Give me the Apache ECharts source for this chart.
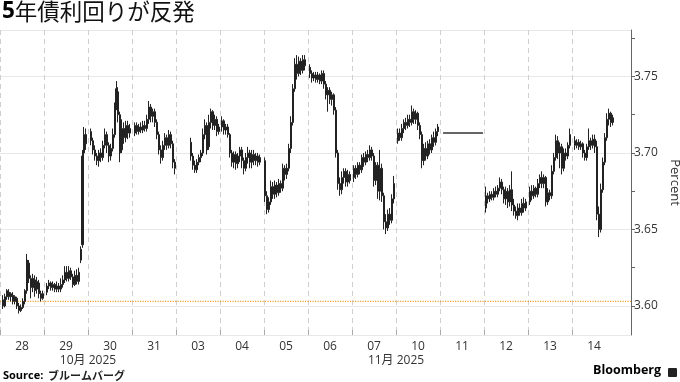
<!DOCTYPE html>
<html><head><meta charset="utf-8">
<script src="https://cdn.jsdelivr.net/npm/echarts@6/dist/echarts.min.js"></script>
<style>html,body{margin:0;padding:0;background:#fff}#c{width:680px;height:382px}</style>
</head><body><div id="c"></div>
<script>
// Trading days shown on the axis
const days = ['28','29','30','31','03','04','05','06','07','10','11','12','13','14'];
// Month labels: [text, boundary index (day index where label is centred)]
const months = [['10月 2025', 2], ['11月 2025', 9]];
const yTicks = [3.60, 3.65, 3.70, 3.75];
const yMin = 3.581, yMax = 3.7804;
const minorMin = 3.600, minorMax = 3.775, minorStep = 0.025;
const refLevel = 3.603;          // dotted orange reference line
const holidayLevel = 3.713;      // flat line on 11 (market closed)
const holidaySlots = [3, 43];
// Each day split into 44 time slots. Bars: [slot, open, close, low, high]
const d28 = [[3,3.604,3.600,3.598,3.607],[5,3.600,3.606,3.599,3.608],[7,3.606,3.610,3.604,3.611],[9,3.609,3.606,3.604,3.611],[11,3.606,3.608,3.603,3.609],[13,3.607,3.603,3.601,3.609],[15,3.603,3.606,3.601,3.607],[17,3.605,3.600,3.598,3.606],[19,3.600,3.597,3.595,3.602],[21,3.597,3.599,3.596,3.601],[23,3.599,3.603,3.598,3.605],[25,3.603,3.610,3.601,3.611],[27,3.610,3.630,3.608,3.634],[29,3.628,3.618,3.615,3.630],[31,3.618,3.612,3.605,3.620],[33,3.612,3.618,3.609,3.621],[35,3.617,3.610,3.606,3.620],[37,3.611,3.616,3.608,3.619],[39,3.615,3.608,3.605,3.617],[41,3.608,3.605,3.603,3.610],[43,3.605,3.608,3.604,3.610]];
const d29 = [[3,3.609,3.613,3.607,3.615],[5,3.613,3.615,3.611,3.617],[7,3.615,3.612,3.610,3.616],[9,3.612,3.614,3.610,3.616],[11,3.614,3.611,3.609,3.615],[13,3.611,3.613,3.609,3.616],[15,3.613,3.611,3.609,3.615],[17,3.611,3.614,3.609,3.618],[19,3.614,3.617,3.612,3.620],[21,3.617,3.622,3.615,3.626],[23,3.622,3.618,3.616,3.626],[25,3.618,3.623,3.616,3.626],[27,3.623,3.619,3.617,3.625],[29,3.619,3.614,3.612,3.621],[31,3.614,3.620,3.613,3.623],[33,3.620,3.616,3.614,3.624],[35,3.616,3.622,3.614,3.625],[37,3.630,3.637,3.628,3.639],[38.5,3.640,3.698,3.638,3.702],[40,3.700,3.712,3.696,3.717],[42,3.712,3.706,3.702,3.716]];
const d30 = [[3,3.714,3.708,3.705,3.716],[5,3.708,3.702,3.699,3.710],[7,3.702,3.698,3.695,3.705],[9,3.698,3.695,3.692,3.700],[11,3.695,3.700,3.691,3.702],[13,3.700,3.697,3.694,3.703],[15,3.697,3.705,3.695,3.708],[17,3.705,3.712,3.703,3.716],[19,3.712,3.705,3.700,3.714],[21,3.705,3.698,3.694,3.707],[23,3.698,3.703,3.695,3.706],[25,3.703,3.712,3.701,3.716],[27,3.712,3.730,3.710,3.733],[28.5,3.730,3.742,3.728,3.747],[30,3.740,3.725,3.720,3.743],[32,3.725,3.700,3.694,3.727],[34,3.702,3.716,3.700,3.722],[36,3.716,3.710,3.706,3.720],[38,3.710,3.718,3.707,3.721],[40,3.718,3.713,3.709,3.721],[42,3.713,3.716,3.710,3.719]];
const d31 = [[3,3.713,3.718,3.711,3.720],[5,3.718,3.714,3.712,3.720],[7,3.714,3.717,3.712,3.719],[9,3.717,3.715,3.713,3.720],[11,3.715,3.718,3.713,3.721],[13,3.718,3.716,3.714,3.721],[15,3.716,3.722,3.714,3.725],[17,3.722,3.730,3.719,3.734],[19,3.730,3.724,3.720,3.732],[21,3.724,3.727,3.720,3.729],[23,3.727,3.720,3.717,3.729],[25,3.720,3.712,3.709,3.722],[27,3.712,3.702,3.699,3.714],[29,3.702,3.697,3.693,3.705],[31,3.697,3.705,3.695,3.708],[33,3.705,3.710,3.702,3.713],[35,3.710,3.705,3.702,3.712],[37,3.705,3.712,3.703,3.715],[39,3.712,3.706,3.703,3.714],[41,3.706,3.694,3.690,3.708],[43,3.694,3.690,3.686,3.696]];
const d03 = [[15,3.707,3.698,3.695,3.710],[17,3.698,3.692,3.689,3.700],[19,3.692,3.689,3.687,3.695],[21,3.689,3.694,3.687,3.696],[23,3.694,3.697,3.692,3.699],[25,3.697,3.700,3.694,3.702],[27,3.700,3.712,3.698,3.716],[29,3.712,3.718,3.709,3.722],[31,3.718,3.702,3.699,3.720],[33,3.704,3.720,3.702,3.725],[35,3.720,3.727,3.716,3.729],[37,3.727,3.718,3.715,3.728],[39,3.718,3.722,3.715,3.725],[41,3.722,3.714,3.711,3.724],[43,3.714,3.717,3.712,3.719]];
const d04 = [[2,3.717,3.721,3.714,3.724],[4,3.721,3.715,3.712,3.722],[6,3.715,3.717,3.712,3.719],[8,3.717,3.712,3.710,3.719],[10,3.712,3.700,3.697,3.713],[12,3.700,3.694,3.691,3.702],[14,3.694,3.699,3.690,3.701],[16,3.699,3.693,3.689,3.701],[18,3.693,3.698,3.690,3.700],[20,3.698,3.702,3.694,3.704],[22,3.702,3.695,3.690,3.704],[24,3.695,3.690,3.686,3.697],[26,3.690,3.697,3.688,3.700],[28,3.697,3.700,3.693,3.704],[30,3.700,3.694,3.690,3.702],[32,3.694,3.699,3.690,3.702],[34,3.699,3.695,3.692,3.702],[36,3.695,3.698,3.692,3.700],[38,3.698,3.694,3.691,3.700],[40,3.694,3.697,3.692,3.699]];
const d05 = [[1,3.695,3.672,3.668,3.697],[3,3.672,3.663,3.660,3.675],[5,3.663,3.668,3.661,3.671],[7,3.668,3.678,3.666,3.682],[9,3.678,3.673,3.670,3.681],[11,3.673,3.679,3.670,3.682],[13,3.679,3.674,3.671,3.681],[15,3.674,3.680,3.672,3.683],[17,3.680,3.677,3.674,3.682],[19,3.677,3.690,3.675,3.693],[21,3.690,3.686,3.682,3.692],[23,3.686,3.690,3.683,3.693],[25,3.690,3.703,3.688,3.706],[27,3.703,3.720,3.700,3.724],[29,3.720,3.742,3.718,3.745],[31,3.742,3.758,3.740,3.762],[33,3.758,3.752,3.748,3.764],[35,3.752,3.760,3.750,3.763],[37,3.760,3.754,3.751,3.762],[39,3.754,3.761,3.752,3.764],[41,3.761,3.757,3.754,3.764]];
const d06 = [[2,3.756,3.752,3.749,3.758],[4,3.752,3.749,3.746,3.754],[6,3.749,3.751,3.747,3.753],[8,3.751,3.748,3.746,3.753],[10,3.748,3.751,3.746,3.753],[12,3.751,3.747,3.745,3.752],[14,3.747,3.752,3.745,3.754],[16,3.752,3.745,3.742,3.754],[18,3.745,3.738,3.735,3.747],[20,3.738,3.741,3.727,3.743],[22,3.741,3.735,3.732,3.743],[24,3.735,3.738,3.731,3.740],[26,3.738,3.728,3.725,3.739],[28,3.728,3.700,3.697,3.730],[30,3.700,3.680,3.676,3.702],[32,3.680,3.676,3.672,3.684],[34,3.676,3.684,3.673,3.688],[36,3.684,3.688,3.680,3.690],[38,3.688,3.681,3.678,3.690],[40,3.681,3.686,3.678,3.689],[42,3.686,3.682,3.680,3.688]];
const d07 = [[2,3.684,3.690,3.681,3.692],[4,3.690,3.686,3.683,3.692],[6,3.686,3.692,3.684,3.694],[8,3.692,3.689,3.686,3.694],[10,3.689,3.697,3.687,3.699],[12,3.697,3.694,3.691,3.700],[14,3.694,3.699,3.692,3.701],[16,3.699,3.697,3.694,3.702],[18,3.697,3.702,3.695,3.705],[20,3.702,3.698,3.695,3.704],[22,3.698,3.682,3.678,3.700],[24,3.682,3.692,3.679,3.694],[26,3.692,3.675,3.670,3.694],[28,3.675,3.690,3.669,3.702],[30,3.690,3.672,3.668,3.693],[32,3.672,3.655,3.650,3.674],[34,3.655,3.651,3.647,3.660],[36,3.651,3.660,3.649,3.663],[38,3.660,3.656,3.653,3.664],[40,3.656,3.670,3.654,3.673],[42,3.670,3.680,3.667,3.685]];
const d10 = [[2,3.708,3.713,3.706,3.716],[4,3.713,3.710,3.708,3.716],[6,3.710,3.716,3.708,3.719],[8,3.716,3.720,3.713,3.722],[10,3.720,3.718,3.715,3.723],[12,3.718,3.722,3.716,3.725],[14,3.722,3.720,3.717,3.725],[16,3.720,3.727,3.718,3.731],[18,3.727,3.722,3.719,3.729],[20,3.722,3.726,3.719,3.728],[22,3.726,3.718,3.715,3.727],[24,3.718,3.712,3.709,3.720],[26,3.712,3.695,3.690,3.714],[28,3.695,3.703,3.692,3.706],[30,3.703,3.698,3.695,3.707],[32,3.698,3.706,3.696,3.708],[34,3.706,3.702,3.699,3.709],[36,3.702,3.710,3.700,3.712],[38,3.710,3.707,3.704,3.714],[40,3.707,3.714,3.705,3.716],[42,3.714,3.717,3.711,3.719]];
const d11 = [];
const d12 = [[2,3.664,3.672,3.661,3.678],[4,3.672,3.670,3.667,3.674],[6,3.670,3.673,3.668,3.675],[8,3.673,3.671,3.669,3.675],[10,3.671,3.675,3.669,3.677],[12,3.675,3.673,3.671,3.678],[14,3.673,3.677,3.671,3.679],[16,3.677,3.681,3.675,3.684],[18,3.681,3.676,3.673,3.683],[20,3.676,3.670,3.667,3.678],[22,3.670,3.675,3.666,3.678],[24,3.675,3.668,3.664,3.677],[26,3.668,3.676,3.665,3.679],[28,3.676,3.666,3.662,3.688],[30,3.666,3.662,3.659,3.670],[32,3.662,3.659,3.657,3.665],[34,3.659,3.664,3.656,3.667],[36,3.664,3.661,3.659,3.667],[38,3.661,3.667,3.659,3.670],[40,3.667,3.664,3.661,3.671],[42,3.664,3.668,3.662,3.670]];
const d13 = [[2,3.668,3.675,3.666,3.678],[4,3.675,3.672,3.669,3.679],[6,3.672,3.677,3.670,3.679],[8,3.677,3.673,3.671,3.678],[10,3.673,3.680,3.671,3.683],[12,3.680,3.684,3.677,3.686],[14,3.684,3.680,3.677,3.688],[16,3.680,3.684,3.677,3.686],[18,3.684,3.668,3.665,3.685],[20,3.668,3.674,3.666,3.677],[22,3.674,3.672,3.669,3.676],[24,3.672,3.688,3.670,3.692],[26,3.688,3.697,3.686,3.700],[28,3.697,3.708,3.695,3.712],[30,3.708,3.700,3.696,3.711],[32,3.700,3.704,3.690,3.707],[34,3.704,3.690,3.686,3.706],[36,3.690,3.700,3.688,3.703],[38,3.700,3.698,3.695,3.703],[40,3.698,3.705,3.696,3.707],[42,3.705,3.712,3.703,3.716]];
const d14 = [[3,3.708,3.705,3.702,3.711],[5,3.705,3.707,3.703,3.709],[7,3.707,3.704,3.702,3.709],[9,3.704,3.706,3.702,3.708],[11,3.706,3.700,3.697,3.707],[13,3.700,3.697,3.695,3.702],[15,3.697,3.704,3.695,3.706],[17,3.704,3.708,3.702,3.716],[19,3.708,3.705,3.702,3.710],[21,3.705,3.709,3.703,3.712],[23,3.709,3.704,3.700,3.712],[25,3.704,3.660,3.656,3.708],[27,3.660,3.650,3.645,3.665],[29,3.650,3.676,3.648,3.680],[31,3.676,3.694,3.674,3.697],[33,3.694,3.710,3.692,3.713],[35,3.710,3.722,3.708,3.726],[37,3.722,3.726,3.718,3.729],[39,3.726,3.720,3.717,3.727],[40.5,3.720,3.723,3.718,3.725]];
const dayBars = [d28,d29,d30,d31,d03,d04,d05,d06,d07,d10,d11,d12,d13,d14];
const SLOTS = 44;
const X_MAX = 14.34;

const candles = [];
dayBars.forEach((bars, i) => bars.forEach(b => candles.push([i + b[0]/SLOTS, b[1], b[2], b[3], b[4]])));
const holidayLine = holidaySlots.map(s => [10 + s/SLOTS, holidayLevel]);
const refLine = [[0, refLevel], [X_MAX, refLevel]];

// layout of the plot (pixels)
const PT = 30, PB = 335, H = 382;
const pxPerUnit = (PB - PT) / (yMax - yMin);
const minorTop = PT + (yMax - minorMax) * pxPerUnit;
const minorBottom = H - (PT + (yMax - minorMin) * pxPerUnit);

const chart = echarts.init(document.getElementById('c'), null, {renderer: 'canvas'});
const txt = '#333';
const hidden = {show: false};
const hiddenAxis = {show: false, axisLine: {show: false, onZero: false}, axisTick: hidden, minorTick: hidden, axisLabel: hidden, splitLine: hidden, minorSplitLine: hidden};
const gridBase = {left: 0, containLabel: false, outerBoundsMode: 'none'};
chart.setOption({
  animation: false,
  backgroundColor: '#fff',
  textStyle: {fontFamily: 'Open Sans, "Noto Sans CJK JP", sans-serif'},
  title: [{
    left: 2, top: 0, padding: 0,
    text: '{b|5}{n|年債利回りが反発}',
    textStyle: {rich: {
      b: {fontSize: 22.5, fontWeight: 'bold', color: '#000', fontFamily: 'Open Sans, sans-serif'},
      n: {fontSize: 22.5, fontWeight: 'normal', color: '#111', fontFamily: '"Noto Sans CJK JP", sans-serif'}
    }}
  }, {
    left: 3, top: 367, padding: 0,
    text: '{b|Source:} {n|ブルームバーグ}',
    textStyle: {rich: {
      b: {fontSize: 11, fontWeight: 'bold', color: '#000', fontFamily: 'Open Sans, sans-serif'},
      n: {fontSize: 11, color: '#222', fontFamily: '"Noto Sans CJK JP", sans-serif'}
    }}
  }, {
    left: 593, top: 364, padding: 0,
    text: 'Bloomberg',
    textStyle: {fontSize: 12.5, fontWeight: 'bold', color: '#000', fontFamily: 'Open Sans, sans-serif'}
  }],
  graphic: [{type: 'rect', left: 668, top: 368, shape: {width: 9, height: 9, r: 1}, style: {fill: '#222'}}],
  grid: [
    Object.assign({right: 49, top: PT, bottom: H - PB}, gridBase),
    Object.assign({right: 64, top: PT, bottom: H - PB}, gridBase),
    Object.assign({right: 49, top: minorTop, bottom: minorBottom}, gridBase),
    Object.assign({right: 108, top: PT, bottom: H - PB}, gridBase)
  ],
  xAxis: [{
    type: 'value', gridIndex: 0, min: 0, max: X_MAX, interval: 1,
    axisLine: {show: false, onZero: false}, axisTick: hidden, splitLine: hidden,
    axisLabel: {
      margin: 20, fontSize: 12, color: txt, showMaxLabel: false,
      formatter: v => { const m = months.find(mm => mm[1] === v); return m ? m[0] : ''; }
    }
  }, {
    type: 'category', gridIndex: 1, data: days, boundaryGap: true,
    axisLine: {show: false, onZero: false}, axisTick: hidden, splitLine: hidden,
    axisLabel: {margin: 6, fontSize: 12, color: txt}
  }, Object.assign({type: 'value', gridIndex: 2, min: 1, max: 2}, hiddenAxis), {
    type: 'value', gridIndex: 3, min: 0, max: days.length - 1, interval: 1,
    axisLine: {show: false, onZero: false}, axisLabel: hidden,
    axisTick: {show: true, inside: true, length: 5, lineStyle: {color: '#aaa'}},
    splitLine: {show: true, lineStyle: {color: '#cfcfcf', type: [5, 4], width: 1}}
  }],
  yAxis: [{
    type: 'value', gridIndex: 0, position: 'right', min: yMin, max: yMax, splitNumber: 4,
    name: 'Percent', nameLocation: 'middle', nameRotate: -90, nameGap: 33,
    nameTextStyle: {fontSize: 13, color: txt},
    axisLine: {show: true, onZero: false, lineStyle: {color: '#666'}},
    axisTick: {show: true, length: 4, lineStyle: {color: '#666'}},
    minorTick: hidden,
    splitLine: {show: true, lineStyle: {color: '#e8e8e8'}},
    axisLabel: {margin: 3, fontSize: 12, color: txt, showMinLabel: false, showMaxLabel: false,
      formatter: v => { const t = yTicks.find(y => Math.abs(y - v) < 1e-6); return t != null ? t.toFixed(2) : ''; }}
  }, Object.assign({type: 'value', gridIndex: 1, min: yMin, max: yMax}, hiddenAxis), {
    type: 'value', gridIndex: 2, position: 'right', min: minorMin, max: minorMax, interval: minorStep,
    axisLine: {show: false, onZero: false}, axisLabel: hidden, splitLine: hidden,
    axisTick: {show: true, length: 4, lineStyle: {color: '#666'}}
  }, Object.assign({type: 'value', gridIndex: 3, min: yMin, max: yMax}, hiddenAxis)],
  series: [{
    type: 'line', xAxisIndex: 0, yAxisIndex: 0, data: refLine, symbol: 'none', silent: true,
    lineStyle: {color: '#f0a030', type: [1.2, 1.3], width: 1.2}, z: 1
  }, {
    type: 'candlestick', xAxisIndex: 0, yAxisIndex: 0,
    data: candles, encode: {x: 0, y: [1, 2, 3, 4]},
    barWidth: 2,
    itemStyle: {color: '#222', color0: '#222', borderColor: '#222', borderColor0: '#222', borderWidth: 1}
  }, {
    type: 'line', xAxisIndex: 0, yAxisIndex: 0, data: holidayLine, symbol: 'none',
    lineStyle: {color: '#333', width: 1.5}
  }]
});
</script></body></html>
